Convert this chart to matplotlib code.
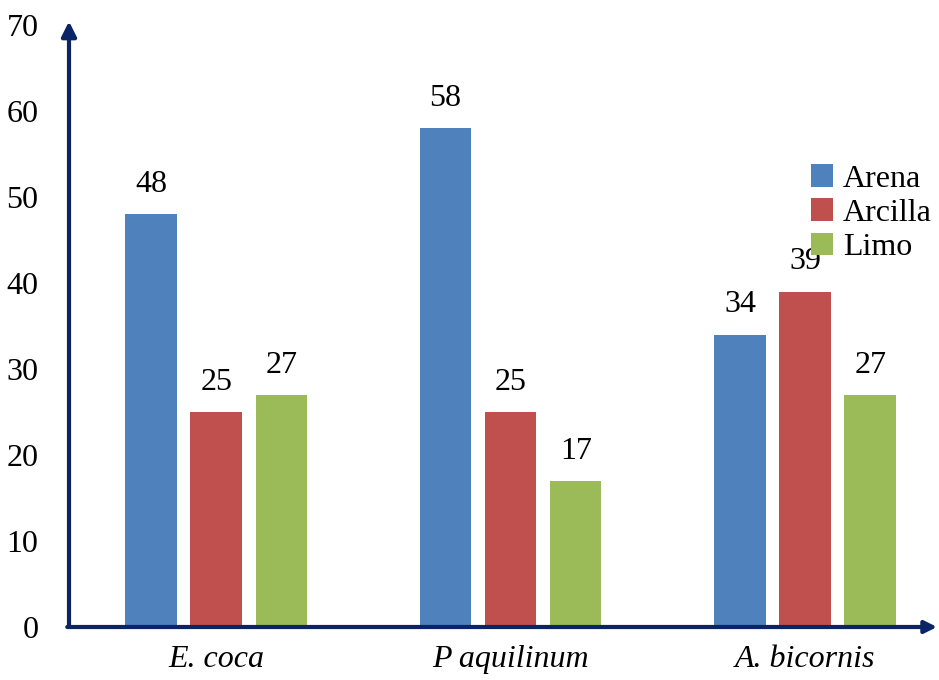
import numpy as np
import matplotlib.pyplot as plt

plt.rcParams['font.family'] = ['Liberation Serif', 'DejaVu Serif']

categories = ['E. coca', 'P aquilinum', 'A. bicornis']
series = ['Arena', 'Arcilla', 'Limo']
values = {
    'Arena': [48, 58, 34],
    'Arcilla': [25, 25, 39],
    'Limo': [27, 17, 27],
}
colors = ['#4F81BD', '#C0504D', '#9BBB59']
AXIS_COLOR = '#0B2466'
FS = 23

fig = plt.figure(figsize=(9.39, 6.8), dpi=100)
ax = fig.add_axes([69 / 939, 53 / 680, (937 - 69) / 939, 602 / 680])

x = np.arange(len(categories))
width = 0.175
offset = 0.221

for i, (name, color) in enumerate(zip(series, colors)):
    pos = x + (i - 1) * offset
    bars = ax.bar(pos, values[name], width, color=color, label=name)
    for b, v in zip(bars, values[name]):
        ax.annotate(str(v), (b.get_x() + b.get_width() / 2, v),
                    xytext=(0, 11), textcoords='offset points',
                    ha='center', va='bottom', fontsize=FS)

ax.set_xlim(-0.5, 2.448)
ax.set_ylim(0, 70)
ax.set_yticks(range(0, 71, 10))
ax.set_xticks(x)
ax.set_xticklabels(categories, fontstyle='italic', fontsize=FS)
ax.tick_params(axis='y', length=0, labelsize=FS, pad=22)
ax.tick_params(axis='x', length=0, pad=13)

for s in ['top', 'right', 'left', 'bottom']:
    ax.spines[s].set_visible(False)

# axes drawn as arrows
ax.annotate('', xy=(0, 1.006), xytext=(0, 0), xycoords='axes fraction',
            arrowprops=dict(arrowstyle='-|>', color=AXIS_COLOR, lw=3,
                            mutation_scale=22, shrinkA=0, shrinkB=0),
            annotation_clip=False)
ax.annotate('', xy=(1.0, 0), xytext=(-0.002, 0), xycoords='axes fraction',
            arrowprops=dict(arrowstyle='-|>', color=AXIS_COLOR, lw=3,
                            mutation_scale=18, shrinkA=0, shrinkB=0),
            annotation_clip=False)

ax.legend(loc='upper left', bbox_to_anchor=(0.84, 0.79), frameon=False,
          fontsize=FS, handlelength=0.7, handleheight=0.7,
          handletextpad=0.3, labelspacing=0.15, borderaxespad=0)

plt.savefig('out.png', dpi=100)
